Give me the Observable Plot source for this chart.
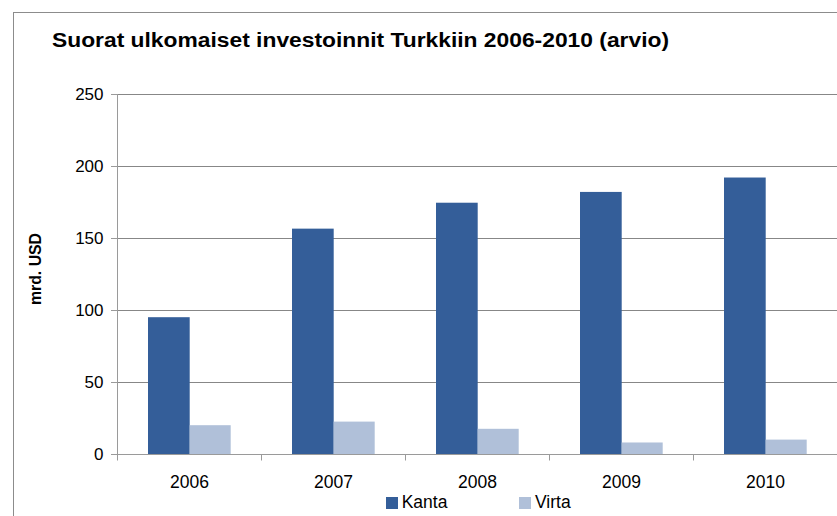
<!DOCTYPE html>
<html><head><meta charset="utf-8">
<script src="https://cdn.jsdelivr.net/npm/d3@7"></script>
<script src="https://cdn.jsdelivr.net/npm/@observablehq/plot@0.6"></script>
<style>
body{margin:0;background:#fff;overflow:hidden}
#wrap{position:relative;width:837px;height:516px;overflow:hidden;font-family:"Liberation Sans",Arial,sans-serif;color:#000}
#border{position:absolute;left:13px;top:12px;width:900px;height:600px;border:1px solid #8c8c8c;box-sizing:border-box}
#chart{position:absolute;left:0;top:0}
#title{position:absolute;left:52px;top:30.8px;font-weight:bold;font-size:19.5px;line-height:19.5px;white-space:nowrap;transform:scaleX(1.17);transform-origin:0 0}
#ylab{position:absolute;left:35.5px;top:268.5px;font-weight:bold;font-size:15.8px;white-space:nowrap;transform:translate(-50%,-50%) rotate(-90deg)}
.sw{position:absolute;width:12px;height:12px;top:497px}
.lt{position:absolute;font-size:17.5px;line-height:17.5px;top:494.3px;white-space:nowrap}
</style></head>
<body>
<div id="wrap">
  <div id="border"></div>
  <div id="chart"></div>
  <div id="title"></div>
  <div id="ylab"></div>
  <div id="legend"></div>
</div>
<script>
const titleText = "Suorat ulkomaiset investoinnit Turkkiin 2006-2010 (arvio)";
const yLabel = "mrd. USD";
const years = ["2006", "2007", "2008", "2009", "2010"];
const seriesNames = ["Kanta", "Virta"];
const kanta = [95, 156.5, 174.5, 182, 192];
const virta = [20, 22.5, 17.5, 8, 10];
const yTicks = [0, 50, 100, 150, 200, 250];
const colors = ["#345e99", "#b0c0d9"];

const kantaData = years.map((y, i) => ({year: y, value: kanta[i]}));
const virtaData = years.map((y, i) => ({year: y, value: virta[i]}));

document.getElementById("title").textContent = titleText;
document.getElementById("ylab").textContent = yLabel;

const axisLines = (index, scales, values, dims) => {
  const x = scales.x, y = scales.y;
  const g = d3.create("svg:g").attr("stroke", "#9a9a9a").attr("fill", "none");
  const x0 = dims.marginLeft, x1 = dims.width - dims.marginRight;
  const y0 = Math.round(y(0)) + 0.5;
  g.append("line").attr("x1", x0).attr("x2", x1).attr("y1", y0).attr("y2", y0);
  g.append("line").attr("x1", x0 + 0.5).attr("x2", x0 + 0.5).attr("y1", y(yTicks[yTicks.length - 1])).attr("y2", y0);
  const seps = years.map(d => x(d)).concat([x(years[years.length - 1]) + x.bandwidth()]);
  for (const s of seps) {
    const sx = Math.round(s) + 0.5;
    g.append("line").attr("x1", sx).attr("x2", sx).attr("y1", y0).attr("y2", y0 + 6);
  }
  return g.node();
};

const plot = Plot.plot({
  width: 837,
  height: 516,
  marginTop: 94,
  marginBottom: 62,
  marginLeft: 117,
  marginRight: 0,
  style: {fontFamily: "'Liberation Sans', Arial, sans-serif", color: "#000", background: "transparent"},
  x: {domain: years, padding: 0},
  y: {domain: [0, 250]},
  marks: [
    Plot.gridY(yTicks, {stroke: "#878787", strokeOpacity: 1}),
    Plot.barY(kantaData, {x: "year", y: "value", fill: colors[0], insetLeft: 31, insetRight: 71.3}),
    Plot.barY(virtaData, {x: "year", y: "value", fill: colors[1], insetLeft: 72.7, insetRight: 30.3}),
    axisLines,
    Plot.axisY(yTicks, {tickSize: 6, tickPadding: 8, fontSize: 17, stroke: "#9a9a9a", label: null}),
    Plot.axisX({tickSize: 0, tickPadding: 21, fontSize: 17.5, label: null})
  ]
});
document.getElementById("chart").appendChild(plot);

const legend = document.getElementById("legend");
const legendPos = [[386, 401.7], [519, 535]];
seriesNames.forEach((name, i) => {
  const sw = document.createElement("div");
  sw.className = "sw";
  sw.style.left = legendPos[i][0] + "px";
  sw.style.background = colors[i];
  legend.appendChild(sw);
  const t = document.createElement("div");
  t.className = "lt";
  t.style.left = legendPos[i][1] + "px";
  t.textContent = name;
  legend.appendChild(t);
});
</script>
</body></html>
